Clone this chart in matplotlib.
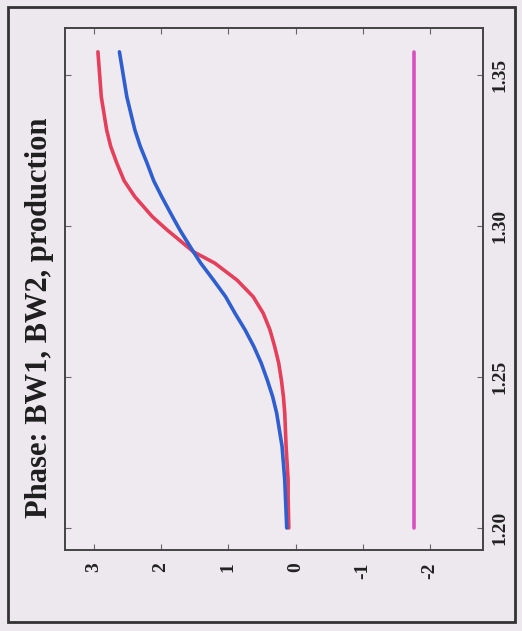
import numpy as np
import matplotlib.pyplot as plt
from matplotlib.patches import Rectangle

# energy (GeV) samples and phases of the three components
energia = [1.200, 1.2104, 1.2159, 1.2270, 1.2325, 1.2380, 1.2435, 1.2490, 1.2546,
           1.2601, 1.2656, 1.2711, 1.2766, 1.2821, 1.2877, 1.2915, 1.2965, 1.2987,
           1.3031, 1.3097, 1.3150, 1.3209, 1.3264, 1.3318, 1.3428, 1.3577]

fase_bw1 = [0.10, 0.11, 0.11, 0.14, 0.15, 0.16, 0.18, 0.21, 0.25,
            0.31, 0.38, 0.48, 0.63, 0.87, 1.20, 1.52, 1.79, 1.91,
            2.13, 2.39, 2.55, 2.66, 2.75, 2.81, 2.89, 2.94]

fase_bw2 = [0.13, 0.15, 0.16, 0.20, 0.24, 0.28, 0.34, 0.42, 0.51,
            0.62, 0.75, 0.90, 1.04, 1.22, 1.41, 1.52, 1.66, 1.72,
            1.83, 1.99, 2.11, 2.21, 2.31, 2.39, 2.51, 2.62]

fase_prod = [-1.77] * len(energia)

tick_energia = [1.20, 1.25, 1.30, 1.35]
tick_fase = [3, 2, 1, 0, -1, -2]

sfondo = '#ede7ee'
fig = plt.figure(figsize=(5.22, 6.31), dpi=100, facecolor=sfondo)

# grafico ruotato: fase in orizzontale, energia in verticale
ax = fig.add_axes([65/522, 1 - 550/631, 418/522, 522/631])
ax.set_facecolor('#efe9f0')

ax.plot(fase_prod, energia, color='#d94fc2', lw=2.6, solid_capstyle='round')
ax.plot(fase_bw1, energia, color='#e4405c', lw=2.6, solid_capstyle='round')
ax.plot(fase_bw2, energia, color='#2f5fcf', lw=2.6, solid_capstyle='round')

ax.set_xlim(3.43, -2.79)
ax.set_ylim(1.1927, 1.3656)

ax.set_xticks(tick_fase)
ax.set_xticklabels(['%d' % v for v in tick_fase], rotation=90,
                   family='Liberation Serif', fontweight='bold', fontsize=14)
ax.set_yticks(tick_energia)
ax.set_yticklabels(['%.2f' % v for v in tick_energia], rotation=90, va='center',
                   family='Liberation Serif', fontweight='bold', fontsize=14)

ax.yaxis.tick_right()
ax.tick_params(axis='both', direction='in', length=4, width=0.8, color='#666666',
               top=True, bottom=True, left=True, right=True, labelcolor='#222222')
ax.tick_params(axis='x', pad=9)
ax.tick_params(axis='y', pad=6)
for s in ax.spines.values():
    s.set_color('#444444')
    s.set_linewidth(1.4)

fig.text(40/522, 1 - 318/631, 'Phase: BW1, BW2, production', rotation=90,
         ha='center', va='center', family='Liberation Serif', fontweight='bold',
         fontsize=22, color='#1e1e1e')

# cornice esterna
fig.patches.append(Rectangle((8/522, 1 - 622/631), 507/522, 615/631,
                             transform=fig.transFigure, fill=False,
                             edgecolor='#333333', lw=2.0))

fig.savefig('out.png', dpi=100, facecolor=sfondo)
